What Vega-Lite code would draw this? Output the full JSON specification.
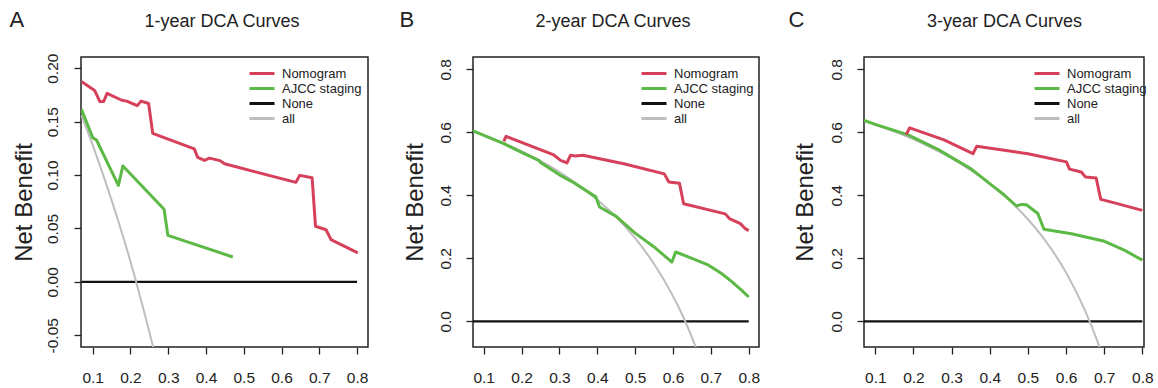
{
  "$schema": "https://vega.github.io/schema/vega-lite/v6.json",
  "background": "white",
  "autosize": {"type": "pad"},
  "padding": {"left": 8, "top": 7, "right": 0, "bottom": 0},
  "datasets": {
    "A": [
      {"curve": "None", "x": 0.07, "nb": 0},
      {"curve": "None", "x": 0.8, "nb": 0},
      {"curve": "all", "x": 0.07, "nb": 0.156},
      {"curve": "all", "x": 0.1, "nb": 0.128},
      {"curve": "all", "x": 0.15, "nb": 0.0765},
      {"curve": "all", "x": 0.2, "nb": 0.019},
      {"curve": "all", "x": 0.25, "nb": -0.047},
      {"curve": "all", "x": 0.27, "nb": -0.075},
      {"curve": "AJCC staging", "x": 0.07, "nb": 0.1617},
      {"curve": "AJCC staging", "x": 0.1, "nb": 0.135},
      {"curve": "AJCC staging", "x": 0.11, "nb": 0.1328},
      {"curve": "AJCC staging", "x": 0.168, "nb": 0.0903},
      {"curve": "AJCC staging", "x": 0.18, "nb": 0.1085},
      {"curve": "AJCC staging", "x": 0.289, "nb": 0.068},
      {"curve": "AJCC staging", "x": 0.299, "nb": 0.0435},
      {"curve": "AJCC staging", "x": 0.471, "nb": 0.0233},
      {"curve": "Nomogram", "x": 0.07, "nb": 0.1876},
      {"curve": "Nomogram", "x": 0.105, "nb": 0.1792},
      {"curve": "Nomogram", "x": 0.119, "nb": 0.1688},
      {"curve": "Nomogram", "x": 0.129, "nb": 0.1688},
      {"curve": "Nomogram", "x": 0.138, "nb": 0.1765},
      {"curve": "Nomogram", "x": 0.177, "nb": 0.170},
      {"curve": "Nomogram", "x": 0.19, "nb": 0.1692},
      {"curve": "Nomogram", "x": 0.218, "nb": 0.165},
      {"curve": "Nomogram", "x": 0.228, "nb": 0.1692},
      {"curve": "Nomogram", "x": 0.248, "nb": 0.167},
      {"curve": "Nomogram", "x": 0.259, "nb": 0.139},
      {"curve": "Nomogram", "x": 0.369, "nb": 0.1245},
      {"curve": "Nomogram", "x": 0.378, "nb": 0.1165},
      {"curve": "Nomogram", "x": 0.396, "nb": 0.1137},
      {"curve": "Nomogram", "x": 0.409, "nb": 0.1158},
      {"curve": "Nomogram", "x": 0.437, "nb": 0.1135},
      {"curve": "Nomogram", "x": 0.449, "nb": 0.1105},
      {"curve": "Nomogram", "x": 0.638, "nb": 0.0931},
      {"curve": "Nomogram", "x": 0.648, "nb": 0.0997},
      {"curve": "Nomogram", "x": 0.681, "nb": 0.0975},
      {"curve": "Nomogram", "x": 0.69, "nb": 0.052},
      {"curve": "Nomogram", "x": 0.718, "nb": 0.0488},
      {"curve": "Nomogram", "x": 0.731, "nb": 0.0395},
      {"curve": "Nomogram", "x": 0.802, "nb": 0.0271}
    ],
    "B": [
      {"curve": "None", "x": 0.07, "nb": 0},
      {"curve": "None", "x": 0.8, "nb": 0},
      {"curve": "all", "x": 0.07, "nb": 0.604},
      {"curve": "all", "x": 0.1, "nb": 0.591},
      {"curve": "all", "x": 0.15, "nb": 0.567},
      {"curve": "all", "x": 0.2, "nb": 0.54},
      {"curve": "all", "x": 0.25, "nb": 0.509},
      {"curve": "all", "x": 0.3, "nb": 0.474},
      {"curve": "all", "x": 0.35, "nb": 0.433},
      {"curve": "all", "x": 0.4, "nb": 0.386},
      {"curve": "all", "x": 0.45, "nb": 0.331},
      {"curve": "all", "x": 0.5, "nb": 0.264},
      {"curve": "all", "x": 0.55, "nb": 0.182},
      {"curve": "all", "x": 0.6, "nb": 0.08},
      {"curve": "all", "x": 0.62, "nb": 0.032},
      {"curve": "all", "x": 0.64, "nb": -0.022},
      {"curve": "all", "x": 0.66, "nb": -0.082},
      {"curve": "all", "x": 0.665, "nb": -0.098},
      {"curve": "AJCC staging", "x": 0.07, "nb": 0.605},
      {"curve": "AJCC staging", "x": 0.153, "nb": 0.564},
      {"curve": "AJCC staging", "x": 0.2, "nb": 0.536},
      {"curve": "AJCC staging", "x": 0.245, "nb": 0.511},
      {"curve": "AJCC staging", "x": 0.25, "nb": 0.504},
      {"curve": "AJCC staging", "x": 0.3, "nb": 0.465},
      {"curve": "AJCC staging", "x": 0.338, "nb": 0.44},
      {"curve": "AJCC staging", "x": 0.396, "nb": 0.395},
      {"curve": "AJCC staging", "x": 0.406, "nb": 0.363},
      {"curve": "AJCC staging", "x": 0.45, "nb": 0.333},
      {"curve": "AJCC staging", "x": 0.5, "nb": 0.28},
      {"curve": "AJCC staging", "x": 0.55, "nb": 0.236},
      {"curve": "AJCC staging", "x": 0.597, "nb": 0.188},
      {"curve": "AJCC staging", "x": 0.607, "nb": 0.22},
      {"curve": "AJCC staging", "x": 0.65, "nb": 0.2},
      {"curve": "AJCC staging", "x": 0.694, "nb": 0.178},
      {"curve": "AJCC staging", "x": 0.73, "nb": 0.15},
      {"curve": "AJCC staging", "x": 0.756, "nb": 0.125},
      {"curve": "AJCC staging", "x": 0.78, "nb": 0.1},
      {"curve": "AJCC staging", "x": 0.8, "nb": 0.077},
      {"curve": "Nomogram", "x": 0.153, "nb": 0.571},
      {"curve": "Nomogram", "x": 0.159, "nb": 0.587},
      {"curve": "Nomogram", "x": 0.285, "nb": 0.528},
      {"curve": "Nomogram", "x": 0.303, "nb": 0.511},
      {"curve": "Nomogram", "x": 0.32, "nb": 0.503},
      {"curve": "Nomogram", "x": 0.329, "nb": 0.527},
      {"curve": "Nomogram", "x": 0.342, "nb": 0.525},
      {"curve": "Nomogram", "x": 0.362, "nb": 0.527},
      {"curve": "Nomogram", "x": 0.47, "nb": 0.5},
      {"curve": "Nomogram", "x": 0.577, "nb": 0.468},
      {"curve": "Nomogram", "x": 0.589, "nb": 0.442},
      {"curve": "Nomogram", "x": 0.617, "nb": 0.438},
      {"curve": "Nomogram", "x": 0.628, "nb": 0.373},
      {"curve": "Nomogram", "x": 0.738, "nb": 0.341},
      {"curve": "Nomogram", "x": 0.749, "nb": 0.326},
      {"curve": "Nomogram", "x": 0.778, "nb": 0.31},
      {"curve": "Nomogram", "x": 0.791, "nb": 0.294},
      {"curve": "Nomogram", "x": 0.8, "nb": 0.288}
    ],
    "C": [
      {"curve": "None", "x": 0.07, "nb": 0},
      {"curve": "None", "x": 0.8, "nb": 0},
      {"curve": "all", "x": 0.07, "nb": 0.636},
      {"curve": "all", "x": 0.1, "nb": 0.624},
      {"curve": "all", "x": 0.15, "nb": 0.602},
      {"curve": "all", "x": 0.2, "nb": 0.5775},
      {"curve": "all", "x": 0.25, "nb": 0.549},
      {"curve": "all", "x": 0.3, "nb": 0.517},
      {"curve": "all", "x": 0.35, "nb": 0.48},
      {"curve": "all", "x": 0.4, "nb": 0.437},
      {"curve": "all", "x": 0.45, "nb": 0.3855},
      {"curve": "all", "x": 0.5, "nb": 0.324},
      {"curve": "all", "x": 0.55, "nb": 0.249},
      {"curve": "all", "x": 0.6, "nb": 0.155},
      {"curve": "all", "x": 0.65, "nb": 0.034},
      {"curve": "all", "x": 0.68, "nb": -0.056},
      {"curve": "all", "x": 0.69, "nb": -0.09},
      {"curve": "AJCC staging", "x": 0.0703, "nb": 0.638},
      {"curve": "AJCC staging", "x": 0.1, "nb": 0.625},
      {"curve": "AJCC staging", "x": 0.186, "nb": 0.592},
      {"curve": "AJCC staging", "x": 0.264, "nb": 0.546},
      {"curve": "AJCC staging", "x": 0.352, "nb": 0.483},
      {"curve": "AJCC staging", "x": 0.4, "nb": 0.437},
      {"curve": "AJCC staging", "x": 0.439, "nb": 0.4},
      {"curve": "AJCC staging", "x": 0.47, "nb": 0.366},
      {"curve": "AJCC staging", "x": 0.483, "nb": 0.371},
      {"curve": "AJCC staging", "x": 0.496, "nb": 0.37},
      {"curve": "AJCC staging", "x": 0.526, "nb": 0.342},
      {"curve": "AJCC staging", "x": 0.542, "nb": 0.292},
      {"curve": "AJCC staging", "x": 0.614, "nb": 0.278},
      {"curve": "AJCC staging", "x": 0.701, "nb": 0.254},
      {"curve": "AJCC staging", "x": 0.754, "nb": 0.225},
      {"curve": "AJCC staging", "x": 0.8, "nb": 0.194},
      {"curve": "Nomogram", "x": 0.181, "nb": 0.593},
      {"curve": "Nomogram", "x": 0.19, "nb": 0.614},
      {"curve": "Nomogram", "x": 0.28, "nb": 0.576},
      {"curve": "Nomogram", "x": 0.356, "nb": 0.532},
      {"curve": "Nomogram", "x": 0.366, "nb": 0.556},
      {"curve": "Nomogram", "x": 0.5, "nb": 0.532},
      {"curve": "Nomogram", "x": 0.601, "nb": 0.506},
      {"curve": "Nomogram", "x": 0.609, "nb": 0.483},
      {"curve": "Nomogram", "x": 0.64, "nb": 0.474},
      {"curve": "Nomogram", "x": 0.651, "nb": 0.458},
      {"curve": "Nomogram", "x": 0.679, "nb": 0.455},
      {"curve": "Nomogram", "x": 0.691, "nb": 0.387},
      {"curve": "Nomogram", "x": 0.727, "nb": 0.376},
      {"curve": "Nomogram", "x": 0.8, "nb": 0.352}
    ]
  },
  "spacing": 105,
  "bounds": "flush",
  "resolve": {
    "scale": {"x": "independent", "y": "independent", "color": "independent"},
    "axis": {"x": "independent", "y": "independent"},
    "legend": {"color": "independent"}
  },
  "hconcat": [
    {
      "width": 287,
      "height": 290,
      "data": {"name": "A"},
      "resolve": {"axis": {"x": "independent", "y": "independent"}},
      "encoding": {
        "x": {"field": "x", "type": "quantitative", "scale": {"domain": [0.069, 0.829], "nice": false, "zero": false}, "axis": null},
        "y": {"field": "nb", "type": "quantitative", "scale": {"domain": [-0.061, 0.2105], "nice": false, "zero": false}, "axis": null},
        "color": {"field": "curve", "type": "nominal", "title": null,
          "scale": {"domain": ["Nomogram", "AJCC staging", "None", "all"], "range": ["#D6405A", "#5CB946", "#111111", "#BEBEBE"]},
          "legend": {"orient": "none", "legendX": 167, "legendY": 9}}
      },
      "layer": [
        {
          "transform": [{"filter": "datum.curve === 'None'"}],
          "mark": {"type": "line", "strokeWidth": 2.2, "clip": true},
          "encoding": {
            "x": {"field": "x", "type": "quantitative", "scale": {"domain": [0.069, 0.829], "nice": false, "zero": false},
              "axis": {"orient": "bottom", "values": [0.1, 0.2, 0.3, 0.4, 0.5, 0.6, 0.7, 0.8], "format": ".1f", "title": null, "labelBaseline": "alphabetic", "labelPadding": 28.5}},
            "y": {"field": "nb", "type": "quantitative", "scale": {"domain": [-0.061, 0.2105], "nice": false, "zero": false},
              "axis": {"orient": "left", "values": [-0.05, 0, 0.05, 0.1, 0.15, 0.2], "format": ".2f", "labelExpr": "replace(datum.label, '\u2212', '-')",
                "labelAngle": 270, "labelAlign": "center", "labelBaseline": "alphabetic", "labelPadding": 16.5,
                "title": "Net Benefit", "titleFontSize": 24, "titleAngle": 270, "titleX": -50, "titleY": 145, "titleAlign": "center", "titleBaseline": "alphabetic"}}
          }
        },
        {
          "transform": [{"filter": "datum.curve === 'all'"}],
          "mark": {"type": "line", "strokeWidth": 2, "clip": true, "interpolate": "monotone"},
          "encoding": {
            "x": {"field": "x", "type": "quantitative", "scale": {"domain": [0.069, 0.829], "nice": false, "zero": false},
              "axis": {"orient": "top", "labels": false, "ticks": false, "domain": false, "title": "1-year DCA Curves", "titleFontSize": 18, "titleX": 140.5, "titleY": -31, "titleAngle": 0, "titleAlign": "center", "titleBaseline": "alphabetic"}},
            "y": {"field": "nb", "type": "quantitative", "scale": {"domain": [-0.061, 0.2105], "nice": false, "zero": false},
              "axis": {"orient": "right", "labels": false, "ticks": false, "domain": false, "title": "A", "titleFontSize": 22, "titleX": -359, "titleY": -31, "titleAngle": 0, "titleAlign": "left", "titleBaseline": "alphabetic"}}
          }
        },
        {
          "transform": [{"filter": "datum.curve === 'AJCC staging'"}],
          "mark": {"type": "line", "strokeWidth": 3, "clip": true, "strokeJoin": "round"}
        },
        {
          "transform": [{"filter": "datum.curve === 'Nomogram'"}],
          "mark": {"type": "line", "strokeWidth": 3, "clip": true, "strokeJoin": "round"}
        }
      ]
    },
    {
      "width": 286,
      "height": 290,
      "data": {"name": "B"},
      "resolve": {"axis": {"x": "independent", "y": "independent"}},
      "encoding": {
        "x": {"field": "x", "type": "quantitative", "scale": {"domain": [0.0717, 0.8271], "nice": false, "zero": false}, "axis": null},
        "y": {"field": "nb", "type": "quantitative", "scale": {"domain": [-0.0816, 0.839], "nice": false, "zero": false}, "axis": null},
        "color": {"field": "curve", "type": "nominal", "title": null,
          "scale": {"domain": ["Nomogram", "AJCC staging", "None", "all"], "range": ["#D6405A", "#5CB946", "#111111", "#BEBEBE"]},
          "legend": {"orient": "none", "legendX": 167, "legendY": 9}}
      },
      "layer": [
        {
          "transform": [{"filter": "datum.curve === 'None'"}],
          "mark": {"type": "line", "strokeWidth": 2.2, "clip": true},
          "encoding": {
            "x": {"field": "x", "type": "quantitative", "scale": {"domain": [0.0717, 0.8271], "nice": false, "zero": false},
              "axis": {"orient": "bottom", "values": [0.1, 0.2, 0.3, 0.4, 0.5, 0.6, 0.7, 0.8], "format": ".1f", "title": null, "labelBaseline": "alphabetic", "labelPadding": 28.5}},
            "y": {"field": "nb", "type": "quantitative", "scale": {"domain": [-0.0816, 0.839], "nice": false, "zero": false},
              "axis": {"orient": "left", "values": [0, 0.2, 0.4, 0.6, 0.8], "format": ".1f",
                "labelAngle": 270, "labelAlign": "center", "labelBaseline": "alphabetic", "labelPadding": 16,
                "title": "Net Benefit", "titleFontSize": 24, "titleAngle": 270, "titleX": -51, "titleY": 145, "titleAlign": "center", "titleBaseline": "alphabetic"}}
          }
        },
        {
          "transform": [{"filter": "datum.curve === 'all'"}],
          "mark": {"type": "line", "strokeWidth": 2, "clip": true, "interpolate": "monotone"},
          "encoding": {
            "x": {"field": "x", "type": "quantitative", "scale": {"domain": [0.0717, 0.8271], "nice": false, "zero": false},
              "axis": {"orient": "top", "labels": false, "ticks": false, "domain": false, "title": "2-year DCA Curves", "titleFontSize": 18, "titleX": 139.5, "titleY": -31, "titleAngle": 0, "titleAlign": "center", "titleBaseline": "alphabetic"}},
            "y": {"field": "nb", "type": "quantitative", "scale": {"domain": [-0.0816, 0.839], "nice": false, "zero": false},
              "axis": {"orient": "right", "labels": false, "ticks": false, "domain": false, "title": "B", "titleFontSize": 22, "titleX": -360, "titleY": -31, "titleAngle": 0, "titleAlign": "left", "titleBaseline": "alphabetic"}}
          }
        },
        {
          "transform": [{"filter": "datum.curve === 'AJCC staging'"}],
          "mark": {"type": "line", "strokeWidth": 3, "clip": true, "strokeJoin": "round"}
        },
        {
          "transform": [{"filter": "datum.curve === 'Nomogram'"}],
          "mark": {"type": "line", "strokeWidth": 3, "clip": true, "strokeJoin": "round"}
        }
      ]
    },
    {
      "width": 280,
      "height": 290,
      "data": {"name": "C"},
      "resolve": {"axis": {"x": "independent", "y": "independent"}},
      "encoding": {
        "x": {"field": "x", "type": "quantitative", "scale": {"domain": [0.0703, 0.8044], "nice": false, "zero": false}, "axis": null},
        "y": {"field": "nb", "type": "quantitative", "scale": {"domain": [-0.0816, 0.839], "nice": false, "zero": false}, "axis": null},
        "color": {"field": "curve", "type": "nominal", "title": null,
          "scale": {"domain": ["Nomogram", "AJCC staging", "None", "all"], "range": ["#D6405A", "#5CB946", "#111111", "#BEBEBE"]},
          "legend": {"orient": "none", "legendX": 169, "legendY": 9}}
      },
      "layer": [
        {
          "transform": [{"filter": "datum.curve === 'None'"}],
          "mark": {"type": "line", "strokeWidth": 2.2, "clip": true},
          "encoding": {
            "x": {"field": "x", "type": "quantitative", "scale": {"domain": [0.0703, 0.8044], "nice": false, "zero": false},
              "axis": {"orient": "bottom", "values": [0.1, 0.2, 0.3, 0.4, 0.5, 0.6, 0.7, 0.8], "format": ".1f", "title": null, "labelBaseline": "alphabetic", "labelPadding": 28.5}},
            "y": {"field": "nb", "type": "quantitative", "scale": {"domain": [-0.0816, 0.839], "nice": false, "zero": false},
              "axis": {"orient": "left", "values": [0, 0.2, 0.4, 0.6, 0.8], "format": ".1f",
                "labelAngle": 270, "labelAlign": "center", "labelBaseline": "alphabetic", "labelPadding": 15.5,
                "title": "Net Benefit", "titleFontSize": 24, "titleAngle": 270, "titleX": -52, "titleY": 145, "titleAlign": "center", "titleBaseline": "alphabetic"}}
          }
        },
        {
          "transform": [{"filter": "datum.curve === 'all'"}],
          "mark": {"type": "line", "strokeWidth": 2, "clip": true, "interpolate": "monotone"},
          "encoding": {
            "x": {"field": "x", "type": "quantitative", "scale": {"domain": [0.0703, 0.8044], "nice": false, "zero": false},
              "axis": {"orient": "top", "labels": false, "ticks": false, "domain": false, "title": "3-year DCA Curves", "titleFontSize": 18, "titleX": 140, "titleY": -31, "titleAngle": 0, "titleAlign": "center", "titleBaseline": "alphabetic"}},
            "y": {"field": "nb", "type": "quantitative", "scale": {"domain": [-0.0816, 0.839], "nice": false, "zero": false},
              "axis": {"orient": "right", "labels": false, "ticks": false, "domain": false, "title": "C", "titleFontSize": 22, "titleX": -356, "titleY": -31, "titleAngle": 0, "titleAlign": "left", "titleBaseline": "alphabetic"}}
          }
        },
        {
          "transform": [{"filter": "datum.curve === 'AJCC staging'"}],
          "mark": {"type": "line", "strokeWidth": 3, "clip": true, "strokeJoin": "round"}
        },
        {
          "transform": [{"filter": "datum.curve === 'Nomogram'"}],
          "mark": {"type": "line", "strokeWidth": 3, "clip": true, "strokeJoin": "round"}
        }
      ]
    }
  ],
  "config": {
    "font": "Liberation Sans",
    "view": {"stroke": "#222222", "strokeWidth": 1.5},
    "axis": {
      "domain": false, "grid": false,
      "labelFont": "Liberation Sans", "labelFontSize": 15.5, "labelColor": "#222222",
      "tickColor": "#222222", "tickWidth": 1.3, "tickSize": 7,
      "labelFlush": false, "labelOverlap": false,
      "titleFont": "Liberation Sans", "titleFontWeight": "normal", "titleColor": "#222222"
    },
    "legend": {
      "symbolType": "stroke", "symbolSize": 625, "symbolStrokeWidth": 3,
      "labelFont": "Liberation Sans", "labelFontSize": 13, "labelColor": "#222222",
      "labelOffset": 6, "clipHeight": 15, "rowPadding": 0, "padding": 0
    }
  }
}
